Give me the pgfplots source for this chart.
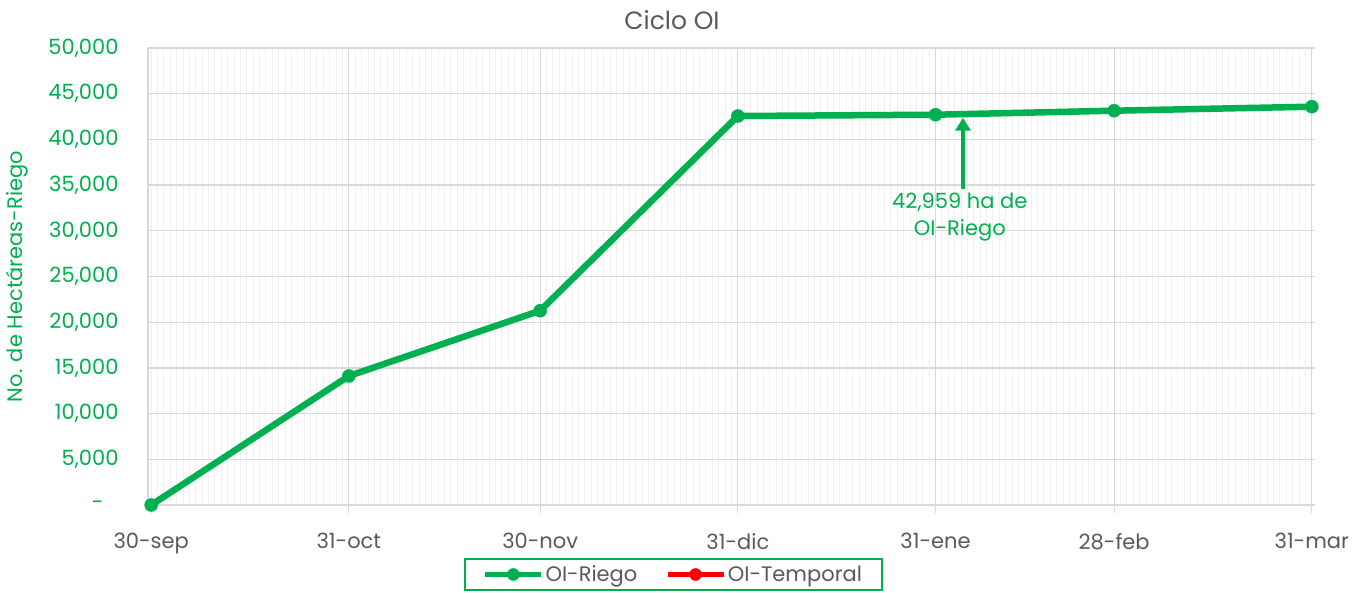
\documentclass[border=0pt]{standalone}
\usepackage{pgfplots}
\pgfplotsset{compat=1.18}
\usepackage{fontspec}
\setmainfont{Poppins}
\usetikzlibrary{arrows.meta}
\definecolor{cgreen}{HTML}{00B050}
\definecolor{cgray}{HTML}{595959}
\definecolor{cgrid}{HTML}{D9D9D9}
\definecolor{cminor}{HTML}{F0F0F0}
\begin{document}
\begin{tikzpicture}
\begin{axis}[
  at={(0,0)}, anchor=south west,
  scale only axis, width=1167bp, height=457bp,
  xmin=-0.5, xmax=182.5, ymin=0, ymax=50000,
  clip=false,
  scaled y ticks=false,
  axis x line=bottom, axis y line=left,
  axis line style={draw=cgrid, line width=1.2bp, -},
  xtick={31,61,92,123,151,182},
  xticklabels={31-oct,30-nov,31-dic,31-ene,28-feb,31-mar},
  extra x ticks={0}, extra x tick labels={30-sep},
  extra x tick style={grid=none, tick style={draw=none}},
  minor xtick={0,...,182},
  ytick={0,5000,...,50000},
  yticklabels={{-\hspace*{15bp}},{5,000},{10,000},{15,000},{20,000},{25,000},{30,000},{35,000},{40,000},{45,000},{50,000}},
  xmajorgrids, ymajorgrids, xminorgrids,
  major grid style={draw=cgrid, line width=1.2bp},
  minor grid style={draw=cminor, line width=1bp},
  tick align=outside,
  xtick style={draw=cgrid, line width=1.2bp},
  major tick length=8bp, minor tick length=0bp,
  ytick style={draw=none},
  xticklabel style={font=\fontsize{21bp}{25bp}\selectfont, text=cgray, yshift=-17bp},
  yticklabel style={font=\fontsize{21bp}{25bp}\selectfont, text=cgreen, xshift=-18bp},
  legend style={at={(0.4503,-0.1160)}, anchor=north, draw=cgreen, line width=1.5bp,
    font=\fontsize{21bp}{25bp}\selectfont, text=cgray, inner xsep=18bp, inner ysep=5bp,
    legend columns=2, /tikz/every even column/.append style={column sep=26bp}},
  legend cell align=left,
  legend image code/.code={\draw[mark repeat=2,mark phase=2,#1,line width=4.5bp,mark size=6bp]
     plot coordinates {(0bp,0bp) (28bp,0bp) (56bp,0bp)};},
]
\addplot[cgreen, line width=6.5bp, mark=*, mark size=6.5bp, mark options={fill=cgreen, draw=cgreen, line width=0.5bp}]
  coordinates {(0,0) (31,14114) (61,21258) (92,42560) (123,42700) (151,43140) (182,43578)};
\addlegendentry{OI-Riego}
\addlegendimage{red, line width=6bp, mark=*, mark options={fill=red, draw=red, line width=0.5bp}}
\addlegendentry{OI-Temporal}
\draw[cgreen, line width=4bp, -{Triangle[width=15bp,length=13bp]}] (axis cs:127.3,34574) -- (axis cs:127.3,42375);
\node[text=cgreen, font=\fontsize{21bp}{27bp}\selectfont, align=center] at (axis cs:126.8,31456) {42,959 ha de\\OI-Riego};
\node[text=cgray, font=\fontsize{25bp}{30bp}\selectfont] at (rel axis cs:0.449,1.0613) {Ciclo OI};
\node[text=cgreen, font=\fontsize{21bp}{25bp}\selectfont, rotate=90] at (rel axis cs:-0.1122,0.5) {No. de Hectáreas-Riego};
\end{axis}
\pgfresetboundingbox
\useasboundingbox (-148bp,-88bp) rectangle (1214bp,505bp);
\end{tikzpicture}
\end{document}
